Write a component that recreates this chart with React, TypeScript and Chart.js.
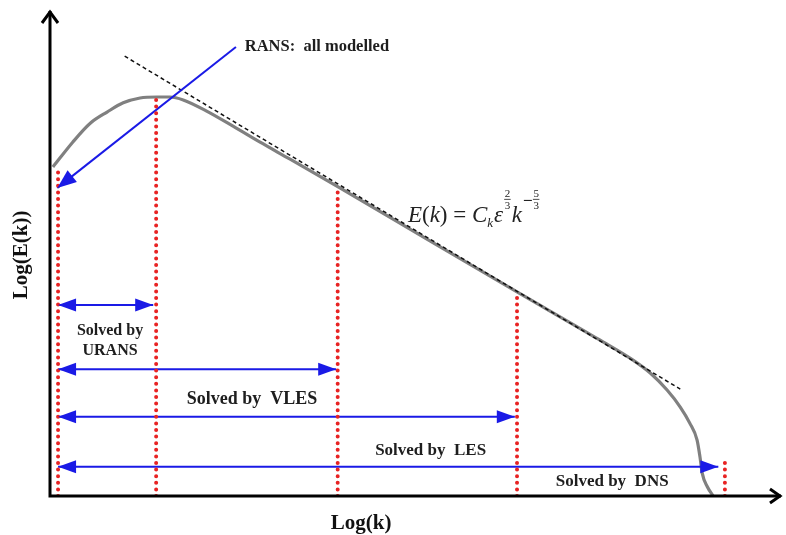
import React, { useEffect, useRef } from "react";
import { Chart, registerables } from "chart.js";

Chart.register(...registerables);

// Energy spectrum, log-log (schematic units)
const spectrumX = [0.04, 0.31, 0.55, 0.78, 1.0, 1.23, 1.46, 1.64, 1.82, 2.14, 2.5, 2.87, 3.28, 3.96, 5.19, 6.38, 7.51, 7.96, 8.2, 8.43, 8.61, 8.74, 8.84, 8.88, 8.91, 8.98, 9.06];
const spectrumY = [6.77, 7.28, 7.67, 7.9, 8.09, 8.19, 8.21, 8.21, 8.15, 7.92, 7.61, 7.28, 6.93, 6.34, 5.25, 4.2, 3.21, 2.8, 2.53, 2.18, 1.83, 1.5, 1.15, 0.8, 0.47, 0.19, 0.0];

// -5/3 slope reference line
const slopeX = [1.02, 8.61];
const slopeY = [9.05, 2.2];

// Cut-off wavenumbers (red dotted)
const cutoffX = [0.11, 1.45, 3.93, 6.38, 9.22];
const cutoffTop = [6.71, 8.21, 6.3, 4.18, 0.74];

// Resolved ranges (blue double arrows)
const rangeY = [3.93, 2.61, 1.63, 0.6];
const rangeStart = [0.11, 0.11, 0.11, 0.11];
const rangeEnd = [1.41, 3.91, 6.35, 9.13];

// RANS arrow
const ransArrowX = [2.54, 0.1];
const ransArrowY = [9.24, 6.34];

// Text labels
const labelText = ["RANS:  all modelled", "Solved by", "URANS", "Solved by  VLES", "Solved by  LES", "Solved by  DNS"];
const labelX = [2.66, 0.82, 0.82, 2.76, 5.2, 7.68];
const labelY = [9.24, 3.4, 2.98, 1.98, 0.93, 0.29];
const labelAlign = ["left", "center", "center", "center", "center", "center"];
const labelSize = [16.5, 16, 16, 18, 17, 17];

const formulaX = 4.89;
const formulaY = 5.64;

const xTitle = "Log(k)";
const yTitle = "Log(E(k))";
const xTitlePos = 4.25;
const yTitlePos = 4.96;

const BLUE = "#1a1ae6";
const RED = "#e82323";
const GRAY = "#808080";
const SERIF = '"Liberation Serif", "DejaVu Serif", serif';

function fillHead(ctx: CanvasRenderingContext2D, tx: number, ty: number, fx: number, fy: number, len: number, half: number) {
  const a = Math.atan2(ty - fy, tx - fx);
  const bx = tx - len * Math.cos(a);
  const by = ty - len * Math.sin(a);
  ctx.beginPath();
  ctx.moveTo(tx, ty);
  ctx.lineTo(bx + half * Math.sin(a), by - half * Math.cos(a));
  ctx.lineTo(bx - half * Math.sin(a), by + half * Math.cos(a));
  ctx.closePath();
  ctx.fill();
}

const annotate = {
  id: "annotate",
  afterDatasetsDraw(chart: any) {
    const ctx: CanvasRenderingContext2D = chart.ctx;
    const xs = chart.scales.x;
    const ys = chart.scales.y;
    const px = (v: number) => xs.getPixelForValue(v);
    const py = (v: number) => ys.getPixelForValue(v);
    ctx.save();

    // axes
    ctx.strokeStyle = "#000";
    ctx.lineWidth = 3;
    ctx.lineCap = "butt";
    const ox = px(0), oy = py(0);
    const xe = px(10), ye = py(10);
    ctx.beginPath();
    ctx.moveTo(ox, oy + 1.5);
    ctx.lineTo(ox, ye + 1);
    ctx.moveTo(ox - 1.5, oy);
    ctx.lineTo(xe - 1, oy);
    ctx.stroke();
    ctx.lineJoin = "miter";
    ctx.beginPath();
    ctx.moveTo(ox - 8, ye + 13);
    ctx.lineTo(ox, ye + 2);
    ctx.lineTo(ox + 8, ye + 13);
    ctx.moveTo(xe - 12, oy - 7);
    ctx.lineTo(xe - 2, oy);
    ctx.lineTo(xe - 12, oy + 7);
    ctx.stroke();

    // range arrowheads
    ctx.fillStyle = BLUE;
    for (let i = 0; i < rangeY.length; i++) {
      const y = py(rangeY[i]);
      const a = px(rangeStart[i]);
      const b = px(rangeEnd[i]);
      fillHead(ctx, a, y, b, y, 18, 6.5);
      fillHead(ctx, b, y, a, y, 18, 6.5);
    }
    // RANS arrowhead
    fillHead(ctx, px(ransArrowX[1]), py(ransArrowY[1]), px(ransArrowX[0]), py(ransArrowY[0]), 19, 7.5);

    // labels
    ctx.fillStyle = "#1e1e1e";
    ctx.textBaseline = "middle";
    for (let i = 0; i < labelText.length; i++) {
      ctx.font = `bold ${labelSize[i]}px ${SERIF}`;
      ctx.textAlign = labelAlign[i] as CanvasTextAlign;
      ctx.fillText(labelText[i], px(labelX[i]), py(labelY[i]));
    }

    // axis titles
    ctx.fillStyle = "#111";
    ctx.font = `bold 21px ${SERIF}`;
    ctx.textAlign = "center";
    ctx.fillText(xTitle, px(xTitlePos), oy + 28);
    ctx.save();
    ctx.translate(ox - 28, py(yTitlePos));
    ctx.rotate(-Math.PI / 2);
    ctx.fillText(yTitle, 0, 0);
    ctx.restore();

    // formula
    ctx.fillStyle = "#222";
    ctx.textBaseline = "alphabetic";
    ctx.textAlign = "left";
    let x = px(formulaX);
    const base = py(formulaY);
    const big = `italic 23px ${SERIF}`;
    const reg = `23px ${SERIF}`;
    const small = `italic 13px ${SERIF}`;
    const tiny = `11px ${SERIF}`;
    const put = (t: string, f: string, dy = 0) => {
      ctx.font = f;
      ctx.fillText(t, x, base + dy);
      x += ctx.measureText(t).width;
    };
    const frac = (n: string, d: string) => {
      ctx.font = tiny;
      const w = Math.max(ctx.measureText(n).width, ctx.measureText(d).width) + 1;
      ctx.textAlign = "center";
      ctx.fillText(n, x + w / 2, base - 25);
      ctx.fillText(d, x + w / 2, base - 13);
      ctx.fillRect(x, base - 23, w, 0.8);
      ctx.textAlign = "left";
      x += w;
    };
    put("E", big);
    put("(", reg);
    put("k", big);
    put(")", reg);
    put(" = ", reg);
    put("C", big);
    put("k", small, 5);
    x += 1;
    put("ε", big);
    x += 1;
    frac("2", "3");
    x += 1;
    put("k", big);
    x += 2;
    ctx.fillRect(x, base - 22, 8, 1.1);
    x += 9;
    frac("5", "3");

    ctx.restore();
  },
};

export default function App() {
  const ref = useRef<HTMLCanvasElement | null>(null);
  useEffect(() => {
    if (!ref.current) return;
    const datasets: any[] = [];
    cutoffX.forEach((cx, i) => {
      datasets.push({
        data: [{ x: cx, y: 0 }, { x: cx, y: cutoffTop[i] }],
        borderColor: RED,
        borderWidth: 4,
        borderDash: [0, 6.6],
        borderCapStyle: "round",
        pointRadius: 0,
      });
    });
    rangeY.forEach((ry, i) => {
      datasets.push({
        data: [{ x: rangeStart[i], y: ry }, { x: rangeEnd[i], y: ry }],
        borderColor: BLUE,
        borderWidth: 2,
        pointRadius: 0,
      });
    });
    datasets.push({
      data: ransArrowX.map((v, i) => ({ x: v, y: ransArrowY[i] })),
      borderColor: BLUE,
      borderWidth: 2,
      pointRadius: 0,
    });
    datasets.push({
      data: slopeX.map((v, i) => ({ x: v, y: slopeY[i] })),
      borderColor: "#111",
      borderWidth: 1.5,
      borderDash: [4, 3],
      pointRadius: 0,
    });
    datasets.push({
      data: spectrumX.map((v, i) => ({ x: v, y: spectrumY[i] })),
      borderColor: GRAY,
      borderWidth: 3.2,
      cubicInterpolationMode: "monotone",
      pointRadius: 0,
    });
    const chart = new Chart(ref.current, {
      type: "line",
      data: { datasets },
      options: {
        animation: false,
        responsive: false,
        layout: { padding: { left: 50, right: 4, top: 10, bottom: 39 } },
        plugins: { legend: { display: false }, tooltip: { enabled: false } },
        scales: {
          x: { type: "linear", min: 0, max: 10, display: false },
          y: { type: "linear", min: 0, max: 10, display: false },
        },
      },
      plugins: [annotate],
    });
    return () => chart.destroy();
  }, []);
  return (
    <div style={{ position: "fixed", left: 0, top: 0, width: 786, height: 535, background: "#fff" }}>
      <canvas ref={ref} width={786} height={535} />
    </div>
  );
}
